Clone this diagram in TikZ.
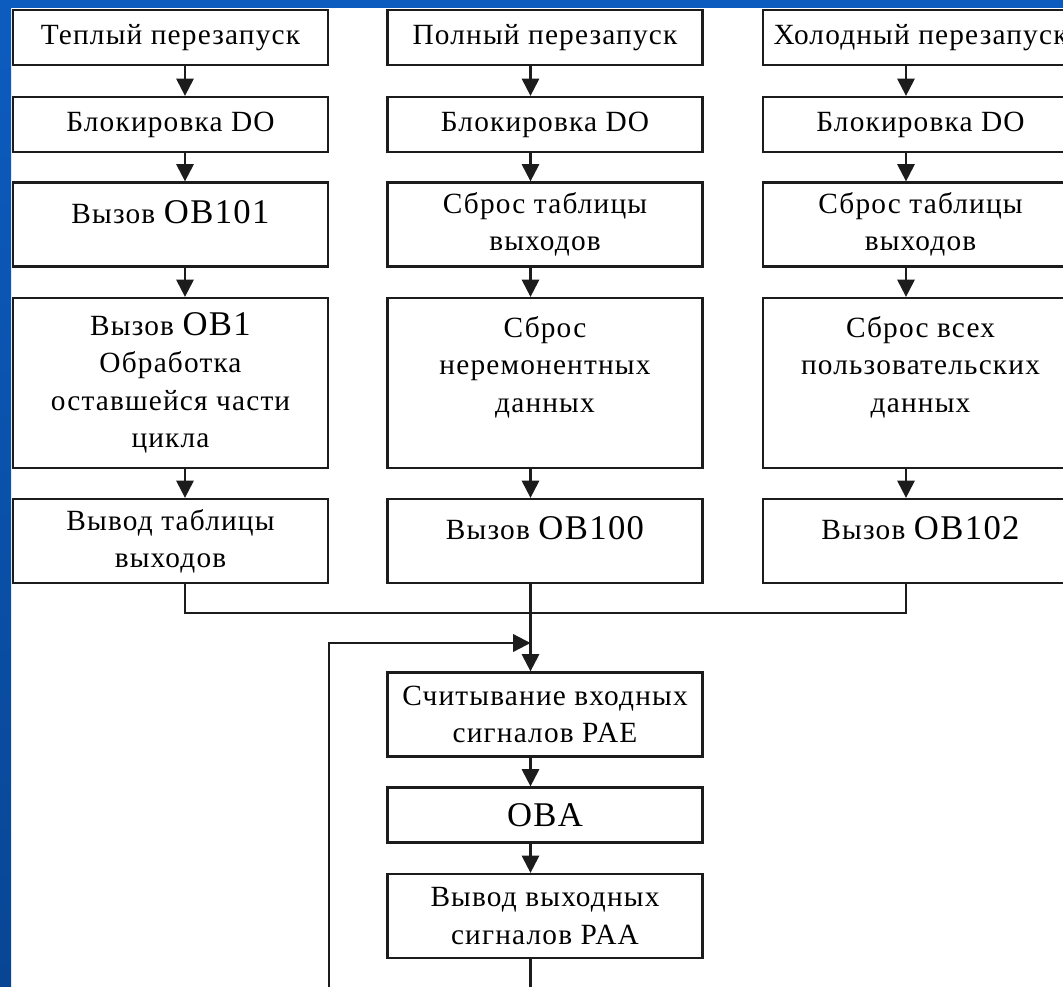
\documentclass[tikz,border=0pt]{standalone}
\usepackage{fontspec}
\setmainfont{Liberation Serif}
\newfontfamily\boxfont[LetterSpace=4]{Liberation Serif}
\usepackage{tikz}
\usetikzlibrary{arrows.meta}
\definecolor{slideblue}{RGB}{12,92,192}
\definecolor{slidedark}{RGB}{8,70,148}
\definecolor{boxline}{RGB}{28,28,28}
\newcommand{\ob}[1]{{\fontsize{26}{28}\selectfont #1}}
\tikzstyle{block}=[rectangle,draw=boxline,fill=white,line width=1.7pt,minimum width=236.25pt,align=center,inner sep=0pt,font=\boxfont\fontsize{22}{28}\selectfont]
\tikzstyle{short}=[block,minimum height=41.25pt]
\tikzstyle{medium}=[block,minimum height=63pt]
\tikzstyle{tall}=[block,minimum height=127.5pt]
\tikzstyle{upper}=[text height=20pt,text depth=22pt]
\tikzstyle{flow}=[-{Triangle[length=13pt,width=13pt]},draw=boxline,line width=1.7pt]
\tikzstyle{simple}=[-,draw=boxline,line width=1.7pt]
\pgfdeclarelayer{bglayer}
\pgfdeclarelayer{edgelayer}
\pgfdeclarelayer{nodelayer}
\pgfsetlayers{bglayer,edgelayer,nodelayer,main}

\begin{document}
\begin{tikzpicture}[x=0.75pt,y=-0.75pt]
	\useasboundingbox (0,0) rectangle (1063,986);
	\begin{pgfonlayer}{bglayer}
		\fill [white] (0,0) rectangle (1063,986);
		\shade [top color=slideblue, bottom color=slidedark] (0,0) rectangle (11,986);
		\fill [slideblue] (0,0) rectangle (1063,8);
	\end{pgfonlayer}
	\begin{pgfonlayer}{nodelayer}
		% warm restart
		\node [style=short] (w1) at (170.5, 37.5) {Теплый перезапуск};
		\node [style=short] (w2) at (170.5, 124.5) {Блокировка DO};
		\node [style=medium, style=upper] (w3) at (170.5, 224.5) {Вызов \ob{OB101}};
		\node [style=tall] (w4) at (170.5, 383) {Вызов \ob{OB1}\\Обработка\\оставшейся части\\цикла};
		\node [style=medium] (w5) at (170.5, 541) {Вывод таблицы\\выходов};
		% full restart
		\node [style=short] (f1) at (545, 37.5) {Полный перезапуск};
		\node [style=short] (f2) at (545, 124.5) {Блокировка DO};
		\node [style=medium] (f3) at (545, 224.5) {Сброс таблицы\\выходов};
		\node [style=tall] (f4) at (545, 383) {Сброс\\неремонентных\\данных\\~};
		\node [style=medium, style=upper] (f5) at (545, 541) {Вызов \ob{OB100}};
		% cold restart
		\node [style=short] (c1) at (920.5, 37.5) {Холодный перезапуск};
		\node [style=short] (c2) at (920.5, 124.5) {Блокировка DO};
		\node [style=medium] (c3) at (920.5, 224.5) {Сброс таблицы\\выходов};
		\node [style=tall] (c4) at (920.5, 383) {Сброс всех\\пользовательских\\данных\\~};
		\node [style=medium, style=upper] (c5) at (920.5, 541) {Вызов \ob{OB102}};
		% cycle
		\node [style=medium] (s1) at (545, 714.5) {Считывание входных\\сигналов PAE};
		\node [style=short] (s2) at (545, 815) {\ob{OBA}};
		\node [style=medium] (s3) at (545, 916) {Вывод выходных\\сигналов PAA};
		\coordinate (ax1) at (185, 0);
		\coordinate (ax2) at (530.5, 0);
		\coordinate (ax3) at (906, 0);
		\coordinate (join) at (530.5, 613);
		\coordinate (loopbot) at (329, 1010);
		\coordinate (looptop) at (329, 643);
	\end{pgfonlayer}
	\begin{pgfonlayer}{edgelayer}
		\draw [style=flow] (w1.south -| ax1) to (w2.north -| ax1);
		\draw [style=flow] (w2.south -| ax1) to (w3.north -| ax1);
		\draw [style=flow] (w3.south -| ax1) to (w4.north -| ax1);
		\draw [style=flow] (w4.south -| ax1) to (w5.north -| ax1);
		\draw [style=flow] (f1.south -| ax2) to (f2.north -| ax2);
		\draw [style=flow] (f2.south -| ax2) to (f3.north -| ax2);
		\draw [style=flow] (f3.south -| ax2) to (f4.north -| ax2);
		\draw [style=flow] (f4.south -| ax2) to (f5.north -| ax2);
		\draw [style=flow] (c1.south -| ax3) to (c2.north -| ax3);
		\draw [style=flow] (c2.south -| ax3) to (c3.north -| ax3);
		\draw [style=flow] (c3.south -| ax3) to (c4.north -| ax3);
		\draw [style=flow] (c4.south -| ax3) to (c5.north -| ax3);
		\draw [style=simple] (w5.south -| ax1) |- (join) -| (c5.south -| ax3);
		\draw [style=flow] (f5.south -| ax2) to (s1.north -| ax2);
		\draw [style=flow] (s1.south -| ax2) to (s2.north -| ax2);
		\draw [style=flow] (s2.south -| ax2) to (s3.north -| ax2);
		\draw [style=flow] (s3.south -| ax2) |- (loopbot) -- (looptop) -- (looptop -| ax2);
	\end{pgfonlayer}
\end{tikzpicture}
\end{document}
